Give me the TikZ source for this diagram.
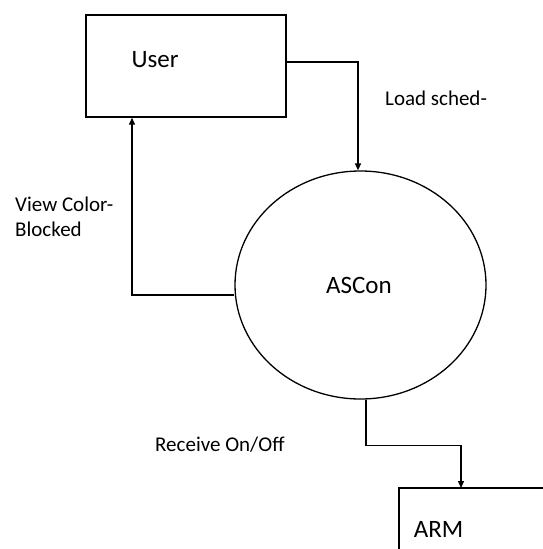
\documentclass[tikz,border=0pt]{standalone}
\usepackage{fontspec}
\setmainfont{Carlito}
\usetikzlibrary{arrows.meta,shapes.geometric}
\begin{document}
\begin{tikzpicture}[x=1pt,y=1pt,
  box/.style={draw, line width=1.4pt, minimum width=200pt, minimum height=102pt, inner sep=0pt},
  edge/.style={line width=1.4pt},
  proc/.style={draw, ellipse, line width=1.3pt, minimum width=251pt, minimum height=228pt, inner sep=0pt},
  big/.style={font=\fontsize{25}{30}\selectfont, inner sep=0pt},
  lbl/.style={font=\fontsize{21}{25}\selectfont, inner sep=0pt, anchor=west, align=left},
  flow/.style={line width=1.3pt, -{Triangle[length=7pt,width=6pt]}}]
\useasboundingbox (0,0) rectangle (542,-549);
\node[anchor=north west, minimum width=145pt, minimum height=63pt, inner sep=0pt] (arm) at (399,-488) {};
\draw[edge] (arm.north east) -- (arm.north west) -- (arm.south west);
\node[box] (user) at (186,-66) {};
\node[big] (usertext) at (155,-60) {User};
\node[proc] (ascon) at (360.5,-285) {};
\node[big] (ascontext) at (359,-285) {ASCon};
\node[big] (armtext) at (438.5,-529) {ARM};
\node[lbl] (load) at (385,-98) {Load sched-};
\node[lbl] (view) at (15,-217) {View Color-\\Blocked};
\node[lbl] (recv) at (155,-445) {Receive On/Off};
\draw[flow] ([yshift=4pt]user.east) -| ([xshift=-2.5pt]ascon.north);
\draw[flow] ([yshift=-10pt]ascon.west) -| ([xshift=-54pt]user.south);
\draw[flow] ([xshift=5.5pt]ascon.south) -- ++(0,-46) -| ([xshift=62pt]arm.north west);
\end{tikzpicture}
\end{document}
